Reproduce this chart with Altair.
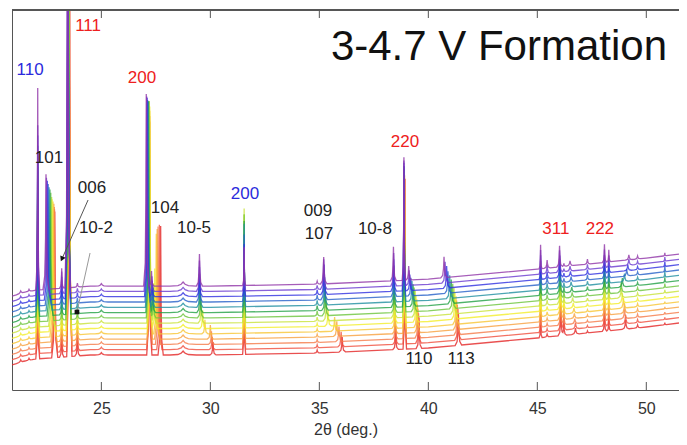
import numpy as np
import pandas as pd
import altair as alt

# ---------------- data ----------------
N_TRACES = 14  # index 0 = bottom (red) ... 13 = top (purple)
TRACE_COLORS = ['#e32424', '#f04e3c', '#f57a48', '#f8a03e', '#f8c634', '#f3ee2a', '#c8e23a',
                '#6cc43c', '#22a045', '#1f8fa0', '#2660c8', '#2f2fe0', '#6a3ad0', '#9035a8']
TRACE_STEP = 5.3  # vertical offset between stacked patterns

# background of the bottom pattern
BASE_X = [20.9, 21.5, 22.0, 24.5, 30.0, 35.0, 40.0, 45.0, 50.0, 51.5]
BASE_Y = [25, 29, 31, 35, 35, 37, 42, 52, 63, 67]

# peak shape template (relative offset in widths, relative height)
SHAPE_DX = [-1.0, -0.4, -0.15, 0.0, 0.15, 0.4, 1.0]
SHAPE_FR = [0.0, 0.12, 0.45, 1.0, 0.45, 0.12, 0.0]

# peaks: position(s), heights per pattern (bottom -> top), half width
PEAKS = [
    (21.3, [2.5] * 14, 0.2),
    (21.68, [2] * 14, 0.15),
    (22.08, [120, 125, 130, 135, 140, 140, 145, 150, 150, 155, 160, 165, 170, 202], 0.09),
    ([22.86, 22.85, 22.84, 22.82, 22.78, 22.74, 22.72, 22.68, 22.64, 22.60, 22.56, 22.52, 22.48, 22.46],
     [146, 143, 140, 138, 135, 132, 129, 128, 126, 123, 121, 119, 117, 115], 0.14),
    (23.18, [25, 24, 22, 20, 18, 16, 15, 15, 16, 18, 20, 22, 22, 20], 0.1),
    ([23.53, 23.53, 23.52, 23.52, 23.51, 23.5, 23.5, 23.49, 23.48, 23.47, 23.47, 23.46, 23.46, 23.45],
     [600] * 14, 0.12),
    (23.9, [18, 16, 15, 14, 12, 10, 9, 8, 7, 6, 5, 5, 4, 4], 0.12),
    (25.0, [2.5] * 14, 0.3),
    ([27.2, 27.2, 27.22, 27.22, 27.22, 27.22, 27.2, 27.18, 27.16, 27.14, 27.12, 27.1, 27.08, 27.06],
     [224, 224, 223, 223, 223, 222, 222, 217, 211, 206, 202, 199, 195, 192], 0.12),
    ([27.72, 27.66, 27.6, 27.56, 27.52, 27.45, 27.4, 27.38, 27.36, 27.35, 27.34, 27.33, 27.32, 27.3],
     [129, 125, 118, 110, 100, 60, 40, 30, 25, 20, 18, 16, 15, 15], 0.12),
    (28.75, [4] * 14, 0.6),
    ([30.12, 30.08, 30.05, 30.0, 29.75, 29.65, 29.58, 29.55, 29.52, 29.52, 29.5, 29.5, 29.5, 29.5],
     [13, 13, 13, 14, 14, 18, 22, 24, 26, 27, 28, 30, 31, 32], 0.14),
    (31.55, [105, 100, 94, 94, 99, 113, 114, 103, 91, 83, 67, 52, 44, 38], 0.07),
    (34.9, [3, 3, 3, 3, 3, 3, 4, 5, 5, 5, 5, 5, 4, 3], 0.14),
    ([36.05, 36.0, 35.9, 35.8, 35.7, 35.4, 35.32, 35.28, 35.26, 35.24, 35.22, 35.22, 35.2, 35.2],
     [15, 15, 15, 15, 14, 16, 20, 24, 26, 28, 30, 30, 30, 27], 0.15),
    ([38.5, 38.5, 38.48, 38.48, 38.46, 38.45, 38.44, 38.44, 38.43, 38.42, 38.42, 38.41, 38.41, 38.4],
     [18, 18, 20, 20, 22, 24, 25, 26, 28, 30, 31, 32, 33, 34], 0.13),
    ([38.92, 38.92, 38.91, 38.91, 38.9, 38.9, 38.9, 38.89, 38.89, 38.89, 38.88, 38.88, 38.88, 38.88],
     [170, 165, 160, 158, 155, 150, 145, 140, 138, 135, 130, 128, 125, 123], 0.08),
    ([39.57, 39.55, 39.52, 39.5, 39.47, 39.43, 39.4, 39.35, 39.3, 39.25, 39.2, 39.15, 39.12, 39.1],
     [31, 30, 29, 28, 28, 27, 26, 24, 22, 20, 18, 16, 15, 14], 0.13),
    ([41.38, 41.36, 41.33, 41.3, 41.27, 41.22, 41.18, 41.12, 41.05, 40.98, 40.9, 40.84, 40.77, 40.72],
     [32, 31, 30, 29, 28, 27, 26, 25, 24, 23, 22, 22, 21, 21], 0.15),
    (45.15, [24] * 14, 0.07),
    (45.45, [3, 3, 3, 3, 4, 4, 5, 5, 6, 6, 7, 7, 8, 8], 0.14),
    ([46.08, 46.08, 46.07, 46.07, 46.06, 46.06, 46.05, 46.05, 46.04, 46.04, 46.03, 46.03, 46.02, 46.02],
     [26, 26, 26, 26, 27, 27, 26, 25, 24, 24, 23, 22, 22, 21], 0.13),
    (46.22, [12, 12, 11, 11, 10, 9, 8, 7, 6, 5, 4, 4, 3, 3], 0.12),
    ([46.75, 46.75, 46.72, 46.7, 46.68, 46.65, 46.62, 46.6, 46.58, 46.55, 46.55, 46.52, 46.5, 46.5],
     [6, 6, 5, 5, 5, 5, 5, 5, 5, 5, 5, 5, 5, 5], 0.17),
    (47.3, [2, 2, 2, 2, 2, 3, 3, 3, 4, 4, 5, 5, 5, 5], 0.12),
    (48.08, [18, 18, 19, 19, 20, 20, 20, 20, 20, 19, 19, 18, 18, 18], 0.1),
    (48.28, [12] * 14, 0.09),
    ([49.05, 49.05, 49.0, 49.0, 48.95, 48.9, 48.85, 48.85, 48.9, 49.0, 49.1, 49.15, 49.2, 49.2],
     [9, 9, 9, 10, 10, 10, 10, 10, 9, 8, 7, 6, 6, 5], 0.16),
    (49.6, [3] * 14, 0.14),
    (50.85, [2, 2, 2, 2, 2, 2, 3, 4, 5, 6, 6, 5, 4, 3], 0.07),
]

# annotations
LABEL_TEXT = ['110', '111', '200', '101', '006', '10-2', '104', '10-5', '200', '009', '107',
              '10-8', '220', '110', '113', '311', '222']
LABEL_X = [21.73, 24.39, 26.86, 22.60, 24.57, 24.75, 27.92, 29.25, 31.59, 34.94, 34.98,
           37.55, 38.93, 39.57, 41.50, 45.85, 47.87]
LABEL_Y = [320, 364, 312, 232, 202, 162, 182, 162, 196, 179, 156, 161, 248, 31, 31, 161, 161]
LABEL_COLOR = ['#2b2bdc', '#ee2020', '#ee2020', '#222222', '#222222', '#222222', '#222222', '#222222',
               '#2b2bdc', '#222222', '#222222', '#222222', '#ee2020', '#222222', '#222222',
               '#ee2020', '#ee2020']

LEADER_X = [24.39, 23.19]
LEADER_Y = [190, 131]
LEADER2_X = [24.48, 23.88]
LEADER2_Y = [137, 78]

TICKS = [25, 30, 35, 40, 45, 50]
X_DOMAIN = [20.9, 51.5]
Y_DOMAIN = [0, 380]

# ---------------- build the stacked patterns ----------------
rows = []
for i in range(N_TRACES):
    xs = list(BASE_X)
    for pos, hts, w in PEAKS:
        p = pos[i] if isinstance(pos, list) else pos
        xs += [p + d * w for d in SHAPE_DX]
    xs = np.array(sorted(set(round(v, 4) for v in xs)))
    xs = xs[(xs >= X_DOMAIN[0] - 0.5) & (xs <= X_DOMAIN[1] + 0.5)]
    ys = np.interp(xs, BASE_X, BASE_Y) + i * TRACE_STEP
    for pos, hts, w in PEAKS:
        p = pos[i] if isinstance(pos, list) else pos
        px = [p + d * w for d in SHAPE_DX]
        ys = ys + hts[i] * np.interp(xs, px, SHAPE_FR, left=0, right=0)
    for x, y in zip(xs, ys):
        rows.append({'trace': f't{i:02d}', 'x': float(x), 'y': float(y)})
df = pd.DataFrame(rows)

xscale = alt.Scale(domain=X_DOMAIN, nice=False, zero=False)
yscale = alt.Scale(domain=Y_DOMAIN, nice=False, zero=False)
FONT = 'Liberation Sans'

lines = alt.Chart(df).mark_line(clip=True, strokeWidth=1.3, opacity=0.8).encode(
    x=alt.X('x:Q', scale=xscale,
            axis=alt.Axis(title='2θ (deg.)', values=TICKS, ticks=False, grid=False,
                          domainColor='#555555', labelFont=FONT, labelFontSize=16,
                          labelColor='#333333', labelPadding=10, titleFont=FONT,
                          titleFontSize=16, titleFontWeight='normal', titleColor='#333333',
                          titlePadding=5)),
    y=alt.Y('y:Q', scale=yscale,
            axis=alt.Axis(title=None, labels=False, ticks=False, grid=False, domainColor='#555555')),
    color=alt.Color('trace:N', scale=alt.Scale(domain=[f't{i:02d}' for i in range(N_TRACES)],
                                               range=TRACE_COLORS), legend=None),
)

lab_df = pd.DataFrame({'t': LABEL_TEXT, 'x': LABEL_X, 'y': LABEL_Y, 'c': LABEL_COLOR})
labels = alt.Chart(lab_df).mark_text(font=FONT, fontSize=17, align='center', baseline='middle').encode(
    x=alt.X('x:Q', scale=xscale), y=alt.Y('y:Q', scale=yscale),
    text='t:N', color=alt.Color('c:N', scale=None))

lead1 = alt.Chart(pd.DataFrame({'x': LEADER_X, 'y': LEADER_Y})).mark_line(
    color='#555555', strokeWidth=1).encode(x=alt.X('x:Q', scale=xscale), y=alt.Y('y:Q', scale=yscale))
lead2 = alt.Chart(pd.DataFrame({'x': LEADER2_X, 'y': LEADER2_Y})).mark_line(
    color='#999999', strokeWidth=1).encode(x=alt.X('x:Q', scale=xscale), y=alt.Y('y:Q', scale=yscale))
head1 = alt.Chart(pd.DataFrame({'x': [LEADER_X[1]], 'y': [LEADER_Y[1]]})).mark_point(
    shape='triangle-up', angle=204, size=35, filled=True, color='#111111', opacity=1).encode(
    x=alt.X('x:Q', scale=xscale), y=alt.Y('y:Q', scale=yscale))
dot2 = alt.Chart(pd.DataFrame({'x': [LEADER2_X[1]], 'y': [LEADER2_Y[1]]})).mark_point(
    shape='square', size=22, filled=True, color='#111111', opacity=1).encode(
    x=alt.X('x:Q', scale=xscale), y=alt.Y('y:Q', scale=yscale))

title = alt.Chart(pd.DataFrame({'t': ['3-4.7 V Formation'], 'x': [43.24], 'y': [330]})).mark_text(
    font=FONT, fontSize=42, align='center', baseline='alphabetic', color='#111111').encode(
    x=alt.X('x:Q', scale=xscale), y=alt.Y('y:Q', scale=yscale), text='t:N')

tick_df = pd.DataFrame({'x': TICKS})
ticks_bottom = alt.Chart(tick_df).mark_rule(color='#555555', strokeWidth=1).encode(
    x=alt.X('x:Q', scale=xscale), y=alt.value(372), y2=alt.value(380))
ticks_top = alt.Chart(tick_df).mark_rule(color='#555555', strokeWidth=1).encode(
    x=alt.X('x:Q', scale=xscale), y=alt.value(0), y2=alt.value(8))
top_border = alt.Chart(tick_df).mark_rule(color='#555555', strokeWidth=1).encode(
    x=alt.value(0), x2=alt.value(667), y=alt.value(0))

chart = alt.layer(lines, lead1, lead2, head1, dot2, labels, title,
                  ticks_bottom, ticks_top, top_border).properties(
    width=667, height=380,
    padding={'left': 4, 'top': 2, 'right': 0, 'bottom': 52},
    autosize=alt.AutoSizeParams(type='none'),
    background='white',
).configure_view(stroke=None)

chart.save('out.html', embed_options={'renderer': 'svg', 'actions': False})
